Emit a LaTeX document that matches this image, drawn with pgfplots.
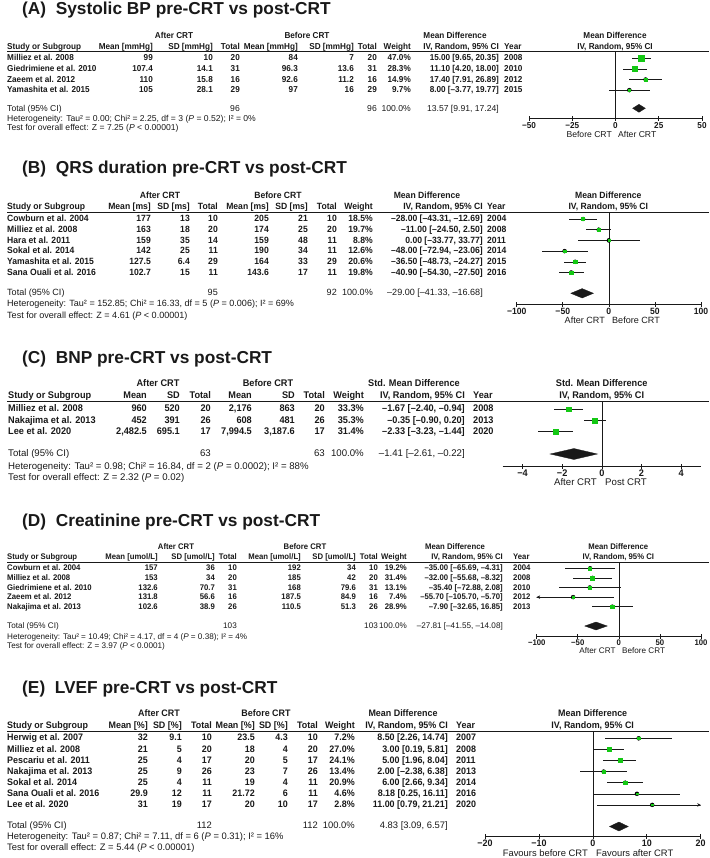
\documentclass[border=0pt]{standalone}
\usepackage{fontspec}
\setmainfont{Liberation Sans}
\newfontfamily\tabfont[FakeStretch=0.95]{Liberation Sans}
\usepackage{pgfplots}
\usepackage{pgfplotstable}
\pgfplotsset{compat=1.18}
\usetikzlibrary{arrows.meta}

\definecolor{ink}{RGB}{25,25,25}
\definecolor{boxgreen}{RGB}{20,200,20}

\newcommand\fs{9}
\newcommand\tb{\tabfont\bfseries\fontsize{\fs}{\fs}\selectfont}
\newcommand\tr{\normalfont\mdseries\fontsize{\fs}{\fs}\selectfont}
\newcommand\ttl{\normalfont\bfseries\fontsize{17.3}{17.3}\selectfont}

\pgfplotsset{
  forest/.style={
    anchor=north west, scale only axis,
    axis x line=bottom, hide y axis,
    x axis line style={-, draw=ink, line width=0.6pt},
    tick align=center, major tick length=5pt,
    xtick style={draw=ink, line width=0.6pt},
    xticklabel style={font=\tb, text=ink, inner sep=0pt, yshift=-1pt},
  },
  ci/.style={only marks, mark=none,
    error bars/.cd, x dir=both, x explicit, error mark=none,
    error bar style={line width=0.5pt, draw=ink}},
  sq/.style={scatter, only marks, mark=square*,
    scatter/use mapped color={draw=boxgreen, fill=boxgreen},
    visualization depends on={#1*sqrt(\thisrow{w}) \as \ms},
    scatter/@pre marker code/.append style={/tikz/mark size=\ms}},
  zero/.style={ink, line width=0.6pt},
  dia/.style={fill=ink, draw=ink, line width=0.3pt},
}

% y = row position (pixels from top, negated), md lo hi = mean difference and 95% CI, w = weight
\pgfplotstableread{
y md lo hi w
-58.3 15.00 9.65 20.35 47.0
-68.9 11.10 4.20 18.00 28.3
-79.5 17.40 7.91 26.89 14.9
-90.1 8.00 -3.77 19.77 9.7
}\tabA
\pgfplotstableread{
y md lo hi w
-219.0 -28.00 -43.31 -12.69 18.5
-229.7 -11.00 -24.50 2.50 19.7
-240.4 0.00 -33.77 33.77 8.8
-251.1 -48.00 -72.94 -23.06 12.6
-261.8 -36.50 -48.73 -24.27 20.6
-272.5 -40.90 -54.30 -27.50 19.8
}\tabB
\pgfplotstableread{
y md lo hi w
-409.3 -1.67 -2.40 -0.94 33.3
-420.5 -0.35 -0.90 0.20 35.3
-431.7 -2.33 -3.23 -1.44 31.4
}\tabC
\pgfplotstableread{
y md lo hi w
-568.3 -35.00 -65.69 -4.31 19.2
-577.9 -32.00 -55.68 -8.32 31.4
-587.5 -35.40 -72.88 2.08 13.1
-597.1 -55.70 -105.70 -5.70 7.4
-606.7 -7.90 -32.65 16.85 28.9
}\tabD
\pgfplotstableread{
y md lo hi w
-738.3 8.50 2.26 14.74 7.2
-749.4 3.00 0.19 5.81 27.0
-760.5 5.00 1.96 8.04 24.1
-771.6 2.00 -2.38 6.38 13.4
-782.7 6.00 2.66 9.34 20.9
-793.8 8.18 0.25 16.11 4.6
-804.9 11.00 0.79 21.21 2.8
}\tabE

\newcommand\grp[5]{%
  \node[anchor=mid] at (#2,#1) {After CRT};
  \node[anchor=mid] at (#3,#1) {Before CRT};
  \node[anchor=mid] at (#4,#1) {#5};}
\newcommand\colhdr[3]{%
  \node[anchor=mid west] at (\xN,#1) {Study or Subgroup};
  \node[anchor=mid east] at (\xA,#1) {#2};
  \node[anchor=mid east] at (\xB,#1) {#3};
  \node[anchor=mid east] at (\xC,#1) {Total};
  \node[anchor=mid east] at (\xD,#1) {#2};
  \node[anchor=mid east] at (\xE,#1) {#3};
  \node[anchor=mid east] at (\xF,#1) {Total};
  \node[anchor=mid east] at (\xW,#1) {Weight};
  \node[anchor=mid east] at (\xCI,#1) {IV, Random, 95\% CI};
  \node[anchor=mid west] at (\xY,#1) {Year};}
\newcommand\rows[1]{%
  \foreach \ry/\rn/\ra/\rb/\rc/\rd/\re/\rf/\rw/\rci/\ryr in {#1}{%
    \node[anchor=mid west] at (\xN,\ry) {\rn};
    \node[anchor=mid east] at (\xA,\ry) {\ra};
    \node[anchor=mid east] at (\xB,\ry) {\rb};
    \node[anchor=mid east] at (\xC,\ry) {\rc};
    \node[anchor=mid east] at (\xD,\ry) {\rd};
    \node[anchor=mid east] at (\xE,\ry) {\re};
    \node[anchor=mid east] at (\xF,\ry) {\rf};
    \node[anchor=mid east] at (\xW,\ry) {\rw};
    \node[anchor=mid east] at (\xCI,\ry) {\rci};
    \node[anchor=mid west] at (\xY,\ry) {\ryr};}}
\newcommand\total[4]{%
  \node[anchor=mid west,font=\tr] at (\xN,#1) {Total (95\% CI)};
  \node[anchor=mid east,font=\tr] at (\xC,#1) {#2};
  \node[anchor=mid east,font=\tr] at (\xF,#1) {#3};
  \node[anchor=mid east,font=\tr] at (\xW,#1) {100.0\%};
  \node[anchor=mid east,font=\tr] at (\xCI,#1) {#4};}

\begin{document}
\begin{tikzpicture}
\useasboundingbox (0,0) rectangle (709pt,-858pt);

% ---------------- (A) ----------------
\renewcommand\fs{8.6}
\begin{scope}[x=1pt,y=-1pt,every node/.style={inner sep=0pt,text=ink,font=\tb}]
  \node[anchor=base west,font=\ttl] at (22,15) {(A)~ Systolic BP pre-CRT vs post-CRT};
  \def\xN{7}\def\xA{153}\def\xB{213}\def\xC{240}\def\xD{298}\def\xE{354}\def\xF{377}\def\xW{411}\def\xCI{499}\def\xY{504}
  \grp{36.3}{174}{307}{455}{Mean Difference}
  \colhdr{47}{Mean [mmHg]}{SD [mmHg]}
  \draw[ink, line width=0.6pt] (7,51.7) -- (709,51.7);
  \rows{58.3/Milliez et al. 2008/99/10/20/84/7/20/47.0\%/{15.00 [9.65, 20.35]}/2008,
        68.9/Giedrimiene et al. 2010/107.4/14.1/31/96.3/13.6/31/28.3\%/{11.10 [4.20, 18.00]}/2010,
        79.5/Zaeem et al. 2012/110/15.8/16/92.6/11.2/16/14.9\%/{17.40 [7.91, 26.89]}/2012,
        90.1/Yamashita et al. 2015/105/28.1/29/97/16/29/9.7\%/{8.00 [–3.77, 19.77]}/2015}
  \total{108.7}{96}{96}{13.57 [9.91, 17.24]}
  \node[anchor=mid west,font=\tr] at (7,118.7) {Heterogeneity: Tau² = 0.00; Chi² = 2.25, df = 3 (\textit{P} = 0.52); I² = 0\%};
  \node[anchor=mid west,font=\tr] at (7,128.3) {Test for overall effect: Z = 7.25 (\textit{P} < 0.00001)};
  \node[anchor=mid] at (615,36.3) {Mean Difference};
  \node[anchor=mid] at (615,47) {IV, Random, 95\% CI};
  \node[anchor=mid east,font=\tr] at (612,135) {Before CRT};
  \node[anchor=mid west,font=\tr] at (618,135) {After CRT};
\end{scope}
\begin{axis}[forest, at={(529pt,-51.7pt)}, width=173pt, height=66.6pt,
  xmin=-50, xmax=50, ymin=-118.3, ymax=-51.7,
  xtick={-50,-25,0,25,50}, xticklabels={−50,−25,0,25,50}]
  \addplot[zero] coordinates {(0,-51.7) (0,-118.3)};
  \addplot[ci] table[x=md, y=y, x error plus expr=\thisrow{hi}-\thisrow{md}, x error minus expr=\thisrow{md}-\thisrow{lo}] {\tabA};
  \addplot[sq=0.42] table[x=md, y=y] {\tabA};
  \addplot[dia] coordinates {(9.91,-108.3) (13.57,-104.3) (17.24,-108.3) (13.57,-112.3)} --cycle;
\end{axis}

% ---------------- (B) ----------------
\renewcommand\fs{9.05}
\begin{scope}[x=1pt,y=-1pt,every node/.style={inner sep=0pt,text=ink,font=\tb}]
  \node[anchor=base west,font=\ttl] at (22,173.3) {(B)~ QRS duration pre-CRT vs post-CRT};
  \def\xN{7}\def\xA{151}\def\xB{190}\def\xC{218}\def\xD{269}\def\xE{308}\def\xF{337}\def\xW{373}\def\xCI{483}\def\xY{487}
  \grp{196}{160}{278}{427}{Mean Difference}
  \colhdr{206.7}{Mean [ms]}{SD [ms]}
  \draw[ink, line width=0.6pt] (7,212.7) -- (709,212.7);
  \rows{219.0/Cowburn et al. 2004/177/13/10/205/21/10/18.5\%/{–28.00 [–43.31, –12.69]}/2004,
        229.7/Milliez et al. 2008/163/18/20/174/25/20/19.7\%/{–11.00 [–24.50, 2.50]}/2008,
        240.4/Hara et al. 2011/159/35/14/159/48/11/8.8\%/{0.00 [–33.77, 33.77]}/2011,
        251.1/Sokal et al. 2014/142/25/11/190/34/11/12.6\%/{–48.00 [–72.94, –23.06]}/2014,
        261.8/Yamashita et al. 2015/127.5/6.4/29/164/33/29/20.6\%/{–36.50 [–48.73, –24.27]}/2015,
        272.5/Sana Ouali et al. 2016/102.7/15/11/143.6/17/11/19.8\%/{–40.90 [–54.30, –27.50]}/2016}
  \total{293.3}{95}{92}{–29.00 [–41.33, –16.68]}
  \node[anchor=mid west,font=\tr] at (7,304) {Heterogeneity: Tau² = 152.85; Chi² = 16.33, df = 5 (\textit{P} = 0.006); I² = 69\%};
  \node[anchor=mid west,font=\tr] at (7,315.7) {Test for overall effect: Z = 4.61 (\textit{P} < 0.00001)};
  \node[anchor=mid] at (608.3,196) {Mean Difference};
  \node[anchor=mid] at (608.3,206.7) {IV, Random, 95\% CI};
  \node[anchor=mid east,font=\tr] at (605,321) {After CRT};
  \node[anchor=mid west,font=\tr] at (612,321) {Before CRT};
\end{scope}
\begin{axis}[forest, at={(516.7pt,-212.7pt)}, width=184.3pt, height=91.6pt,
  xmin=-100, xmax=100, ymin=-304.3, ymax=-212.7,
  xtick={-100,-50,0,50,100}, xticklabels={−100,−50,0,50,100}]
  \addplot[zero] coordinates {(0,-212.7) (0,-304.3)};
  \addplot[ci] table[x=md, y=y, x error plus expr=\thisrow{hi}-\thisrow{md}, x error minus expr=\thisrow{md}-\thisrow{lo}] {\tabB};
  \addplot[sq=0.375] table[x=md, y=y] {\tabB};
  \addplot[dia] coordinates {(-41.33,-293.3) (-29.00,-288.6) (-16.68,-293.3) (-29.00,-298.0)} --cycle;
\end{axis}

% ---------------- (C) ----------------
\renewcommand\fs{9.65}
\begin{scope}[x=1pt,y=-1pt,every node/.style={inner sep=0pt,text=ink,font=\tb}]
  \node[anchor=base west,font=\ttl] at (22,363.3) {(C)~ BNP pre-CRT vs post-CRT};
  \def\xN{8}\def\xA{147}\def\xB{180}\def\xC{211}\def\xD{252}\def\xE{295}\def\xF{325}\def\xW{364}\def\xCI{465}\def\xY{473}
  \grp{384.3}{158}{268}{414}{Std. Mean Difference}
  \colhdr{396}{Mean}{SD}
  \draw[ink, line width=0.6pt] (7,401.7) -- (709,401.7);
  \rows{409.3/Milliez et al. 2008/960/520/20/{2,176}/863/20/33.3\%/{–1.67 [–2.40, –0.94]}/2008,
        420.5/Nakajima et al. 2013/452/391/26/608/481/26/35.3\%/{–0.35 [–0.90, 0.20]}/2013,
        431.7/Lee et al. 2020/{2,482.5}/695.1/17/{7,994.5}/{3,187.6}/17/31.4\%/{–2.33 [–3.23, –1.44]}/2020}
  \total{454}{63}{63}{–1.41 [–2.61, –0.22]}
  \node[anchor=mid west,font=\tr] at (8,466.7) {Heterogeneity: Tau² = 0.98; Chi² = 16.84, df = 2 (\textit{P} = 0.0002); I² = 88\%};
  \node[anchor=mid west,font=\tr] at (8,477.7) {Test for overall effect: Z = 2.32 (\textit{P} = 0.02)};
  \node[anchor=mid] at (601.7,384.3) {Std. Mean Difference};
  \node[anchor=mid] at (601.7,396) {IV, Random, 95\% CI};
  \node[anchor=mid east,font=\tr] at (597,483.3) {After CRT};
  \node[anchor=mid west,font=\tr] at (605,483.3) {Post CRT};
\end{scope}
\begin{axis}[forest, at={(502.7pt,-401.7pt)}, width=198.3pt, height=64.3pt,
  xmin=-5, xmax=5, ymin=-466, ymax=-401.7,
  xtick={-4,-2,0,2,4}, xticklabels={−4,−2,0,2,4}]
  \addplot[zero] coordinates {(0,-401.7) (0,-466)};
  \addplot[ci] table[x=md, y=y, x error plus expr=\thisrow{hi}-\thisrow{md}, x error minus expr=\thisrow{md}-\thisrow{lo}] {\tabC};
  \addplot[sq=0.41] table[x=md, y=y] {\tabC};
  \addplot[dia] coordinates {(-2.61,-454) (-1.41,-448.5) (-0.22,-454) (-1.41,-459.5)} --cycle;
\end{axis}

% ---------------- (D) ----------------
\renewcommand\fs{8.14}
\begin{scope}[x=1pt,y=-1pt,every node/.style={inner sep=0pt,text=ink,font=\tb}]
  \node[anchor=base west,font=\ttl] at (22,526) {(D)~ Creatinine pre-CRT vs post-CRT};
  \def\xN{7}\def\xA{158}\def\xB{215}\def\xC{237}\def\xD{301}\def\xE{356}\def\xF{378}\def\xW{407}\def\xCI{503}\def\xY{513}
  \grp{546.7}{176}{305}{455}{Mean Difference}
  \colhdr{557.3}{Mean [umol/L]}{SD [umol/L]}
  \draw[ink, line width=0.6pt] (7,562.7) -- (709,562.7);
  \rows{568.3/Cowburn et al. 2004/157/36/10/192/34/10/19.2\%/{–35.00 [–65.69, –4.31]}/2004,
        577.9/Milliez et al. 2008/153/34/20/185/42/20/31.4\%/{–32.00 [–55.68, –8.32]}/2008,
        587.5/Giedrimiene et al. 2010/132.6/70.7/31/168/79.6/31/13.1\%/{–35.40 [–72.88, 2.08]}/2010,
        597.1/Zaeem et al. 2012/131.8/56.6/16/187.5/84.9/16/7.4\%/{–55.70 [–105.70, –5.70]}/2012,
        606.7/Nakajima et al. 2013/102.6/38.9/26/110.5/51.3/26/28.9\%/{–7.90 [–32.65, 16.85]}/2013}
  \total{626}{103}{103}{–27.81 [–41.55, –14.08]}
  \node[anchor=mid west,font=\tr] at (7,636.7) {Heterogeneity: Tau² = 10.49; Chi² = 4.17, df = 4 (\textit{P} = 0.38); I² = 4\%};
  \node[anchor=mid west,font=\tr] at (7,646) {Test for overall effect: Z = 3.97 (\textit{P} < 0.0001)};
  \node[anchor=mid] at (618.3,546.7) {Mean Difference};
  \node[anchor=mid] at (618.3,557.3) {IV, Random, 95\% CI};
  \node[anchor=mid east,font=\tr] at (615.7,650.5) {After CRT};
  \node[anchor=mid west,font=\tr] at (622,650.5) {Before CRT};
\end{scope}
\begin{axis}[forest, at={(536.7pt,-562.7pt)}, width=164.3pt, height=73.3pt,
  xmin=-100, xmax=100, ymin=-636, ymax=-562.7,
  xtick={-100,-50,0,50,100}, xticklabels={−100,−50,0,50,100}]
  \addplot[zero] coordinates {(0,-562.7) (0,-636)};
  \addplot[ci] table[x=md, y=y, x error plus expr=\thisrow{hi}-\thisrow{md}, x error minus expr=\thisrow{md}-\thisrow{lo}] {\tabD};
  \addplot[ink, line width=0.5pt, -{Stealth[length=3.5pt,width=3.5pt]}] coordinates {(-90,-597.1) (-100,-597.1)};
  \addplot[sq=0.36] table[x=md, y=y] {\tabD};
  \addplot[dia] coordinates {(-41.55,-626) (-27.81,-622) (-14.08,-626) (-27.81,-630)} --cycle;
\end{axis}

% ---------------- (E) ----------------
\renewcommand\fs{9.4}
\begin{scope}[x=1pt,y=-1pt,every node/.style={inner sep=0pt,text=ink,font=\tb}]
  \node[anchor=base west,font=\ttl] at (22,693.3) {(E)~ LVEF pre-CRT vs post-CRT};
  \def\xN{7}\def\xA{148}\def\xB{182}\def\xC{212}\def\xD{255}\def\xE{288}\def\xF{318}\def\xW{355}\def\xCI{448}\def\xY{456}
  \grp{714.3}{159}{266}{403}{Mean Difference}
  \colhdr{725.7}{Mean [\%]}{SD [\%]}
  \draw[ink, line width=0.6pt] (7,731.5) -- (709,731.5);
  \rows{738.3/Herwig et al. 2007/32/9.1/10/23.5/4.3/10/7.2\%/{8.50 [2.26, 14.74]}/2007,
        749.4/Milliez et al. 2008/21/5/20/18/4/20/27.0\%/{3.00 [0.19, 5.81]}/2008,
        760.5/Pescariu et al. 2011/25/4/17/20/5/17/24.1\%/{5.00 [1.96, 8.04]}/2011,
        771.6/Nakajima et al. 2013/25/9/26/23/7/26/13.4\%/{2.00 [–2.38, 6.38]}/2013,
        782.7/Sokal et al. 2014/25/4/11/19/4/11/20.9\%/{6.00 [2.66, 9.34]}/2014,
        793.8/Sana Ouali et al. 2016/29.9/12/11/21.72/6/11/4.6\%/{8.18 [0.25, 16.11]}/2016,
        804.9/Lee et al. 2020/31/19/17/20/10/17/2.8\%/{11.00 [0.79, 21.21]}/2020}
  \total{826}{112}{112}{4.83 [3.09, 6.57]}
  \node[anchor=mid west,font=\tr] at (7,837.3) {Heterogeneity: Tau² = 0.87; Chi² = 7.11, df = 6 (\textit{P} = 0.31); I² = 16\%};
  \node[anchor=mid west,font=\tr] at (7,848.3) {Test for overall effect: Z = 5.44 (\textit{P} < 0.00001)};
  \node[anchor=mid] at (592.7,714.3) {Mean Difference};
  \node[anchor=mid] at (592.7,725.7) {IV, Random, 95\% CI};
  \node[anchor=mid east,font=\tr] at (588,853.5) {Favours before CRT};
  \node[anchor=mid west,font=\tr] at (596,853.5) {Favours after CRT};
\end{scope}
\begin{axis}[forest, at={(485pt,-731.5pt)}, width=215.7pt, height=104.5pt,
  xmin=-20, xmax=20, ymin=-836, ymax=-731.5,
  xtick={-20,-10,0,10,20}, xticklabels={−20,−10,0,10,20}]
  \addplot[zero] coordinates {(0,-731.5) (0,-836)};
  \addplot[ci] table[x=md, y=y, x error plus expr=\thisrow{hi}-\thisrow{md}, x error minus expr=\thisrow{md}-\thisrow{lo}] {\tabE};
  \addplot[ink, line width=0.5pt, -{Stealth[length=3.5pt,width=3.5pt]}] coordinates {(18,-804.9) (20,-804.9)};
  \addplot[sq=0.385] table[x=md, y=y] {\tabE};
  \addplot[dia] coordinates {(3.09,-826.5) (4.83,-822) (6.57,-826.5) (4.83,-831)} --cycle;
\end{axis}
\end{tikzpicture}
\end{document}
